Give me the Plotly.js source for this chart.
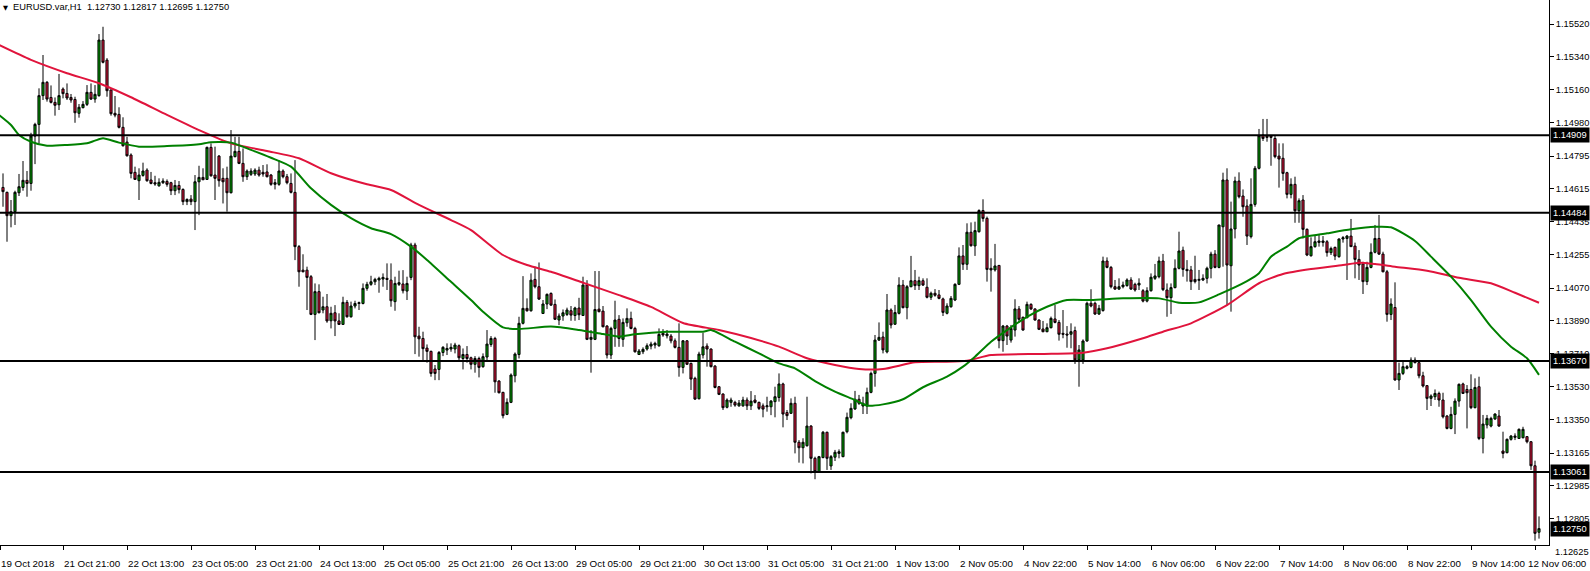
<!DOCTYPE html>
<html>
<head>
<meta charset="utf-8">
<script src="https://cdn.plot.ly/plotly-3.0.1.min.js"></script>
<style>
html,body{margin:0;padding:0;background:#fff;}
#chart{width:1590px;height:571px;}
</style>
</head>
<body>
<div id="chart"></div>
<script>
// ---- data (EURUSD H1) ----
const symbolTitle = "EURUSD.var,H1";
const firstBar = -15; // bar index of the first visible candle (bar 0 = 21 Oct 21:00)

const openPrices = [
1.14623,1.14596,1.14468,1.14490,1.14594,1.14623,1.14662,1.14645,1.14905,1.14969,
1.15127,1.15200,1.15117,1.15090,1.15077,1.15163,1.15139,1.15117,1.15106,1.15030,
1.15061,1.15079,1.15145,1.15108,1.15127,1.15432,1.15322,1.15158,1.15030,1.15024,
1.14953,1.14872,1.14801,1.14706,1.14660,1.14689,1.14718,1.14664,1.14649,1.14632,
1.14649,1.14656,1.14649,1.14605,1.14634,1.14612,1.14545,1.14559,1.14545,1.14654,
1.14678,1.14667,1.14843,1.14691,1.14795,1.14673,1.14673,1.14594,1.14792,1.14821,
1.14755,1.14682,1.14695,1.14697,1.14718,1.14706,1.14708,1.14691,1.14640,1.14640,
1.14713,1.14682,1.14645,1.14596,1.14298,1.14169,1.14169,1.14133,1.13926,1.14051,
1.13950,1.13968,1.13891,1.13935,1.13890,1.13871,1.13992,1.13913,1.13972,1.13986,
1.13986,1.14069,1.14091,1.14105,1.14115,1.14120,1.14124,1.14114,1.13996,1.14091,
1.14093,1.14054,1.14129,1.14307,1.13807,1.13794,1.13741,1.13723,1.13626,1.13624,
1.13717,1.13730,1.13736,1.13736,1.13754,1.13684,1.13706,1.13688,1.13652,1.13684,
1.13639,1.13692,1.13761,1.13794,1.13560,1.13498,1.13377,1.13443,1.13589,1.13706,
1.13877,1.13959,1.13946,1.14118,1.14078,1.13931,1.13983,1.14041,1.13981,1.13895,
1.13917,1.13926,1.13946,1.13920,1.13961,1.13920,1.14087,1.13789,1.13789,1.13955,
1.13944,1.13862,1.13703,1.13849,1.13899,1.13789,1.13880,1.13904,1.13849,1.13706,
1.13721,1.13736,1.13752,1.13758,1.13754,1.13822,1.13809,1.13807,1.13781,1.13745,
1.13635,1.13781,1.13657,1.13575,1.13463,1.13703,1.13752,1.13736,1.13642,1.13529,
1.13489,1.13416,1.13443,1.13443,1.13424,1.13424,1.13456,1.13424,1.13456,1.13443,
1.13424,1.13419,1.13419,1.13447,1.13470,1.13544,1.13387,1.13383,1.13438,1.13224,
1.13194,1.13205,1.13313,1.13136,1.13063,1.13140,1.13279,1.13094,1.13142,1.13163,
1.13145,1.13282,1.13359,1.13407,1.13460,1.13423,1.13423,1.13498,1.13602,1.13785,
1.13802,1.13720,1.13950,1.13872,1.13932,1.14087,1.13963,1.14078,1.14111,1.14084,
1.14111,1.14075,1.14020,1.14042,1.14033,1.14011,1.13932,1.13968,1.14005,1.14091,
1.14247,1.14201,1.14377,1.14302,1.14380,1.14496,1.14453,1.14179,1.14170,1.14195,
1.13782,1.13862,1.13785,1.13840,1.13956,1.13910,1.13908,1.13981,1.13956,1.13895,
1.13846,1.13831,1.13853,1.13901,1.13882,1.13822,1.13818,1.13817,1.13837,1.13676,
1.13676,1.13780,1.13987,1.13987,1.13928,1.13947,1.14219,1.14184,1.14078,1.14065,
1.14078,1.14084,1.14115,1.14091,1.14087,1.14056,1.13999,1.14056,1.14124,1.14133,
1.14219,1.14060,1.14018,1.14073,1.14179,1.14278,1.14173,1.14170,1.14118,1.14113,
1.14115,1.14124,1.14179,1.14257,1.14184,1.14407,1.14664,1.14193,1.14395,1.14658,
1.14576,1.14521,1.14353,1.14530,1.14728,1.14911,1.14905,1.14905,1.14892,1.14795,
1.14783,1.14704,1.14585,1.14640,1.14495,1.14554,1.14393,1.14248,1.14298,1.14321,
1.14321,1.14325,1.14265,1.14294,1.14243,1.14340,1.14343,1.14356,1.14301,1.14228,
1.14203,1.14106,1.14184,1.14267,1.14343,1.14257,1.14160,1.13926,1.13964,1.13566,
1.13602,1.13630,1.13635,1.13675,1.13661,1.13589,1.13535,1.13465,1.13474,1.13492,
1.13456,1.13368,1.13300,1.13377,1.13450,1.13544,1.13514,1.13514,1.13414,1.13529,
1.13245,1.13319,1.13313,1.13352,1.13368,1.13176,1.13167,1.13240,1.13251,1.13245,
1.13249,1.13255,1.13227,1.13095,1.12730
];

const highPrices = [
1.14700,1.14600,1.14554,1.14605,1.14697,1.14768,1.14713,1.14923,1.14978,1.15167,
1.15350,1.15207,1.15183,1.15117,1.15246,1.15172,1.15194,1.15136,1.15121,1.15081,
1.15097,1.15185,1.15194,1.15185,1.15465,1.15505,1.15333,1.15161,1.15125,1.15063,
1.15008,1.14901,1.14810,1.14737,1.14728,1.14759,1.14728,1.14708,1.14687,1.14673,
1.14673,1.14667,1.14654,1.14664,1.14658,1.14618,1.14563,1.14581,1.14691,1.14742,
1.14728,1.14847,1.14865,1.14847,1.14801,1.14728,1.14737,1.14938,1.14901,1.14901,
1.14837,1.14722,1.14728,1.14728,1.14737,1.14746,1.14750,1.14697,1.14669,1.14773,
1.14722,1.14697,1.14700,1.14773,1.14307,1.14256,1.14188,1.14142,1.14096,1.14091,
1.14023,1.14038,1.13968,1.13977,1.13932,1.14023,1.14005,1.13996,1.14001,1.13996,
1.14096,1.14105,1.14138,1.14127,1.14133,1.14151,1.14206,1.14206,1.14133,1.14166,
1.14169,1.14133,1.14319,1.14319,1.13858,1.13831,1.13761,1.13727,1.13648,1.13725,
1.13752,1.13767,1.13767,1.13770,1.13761,1.13739,1.13752,1.13694,1.13697,1.13694,
1.13712,1.13840,1.13807,1.13803,1.13565,1.13501,1.13465,1.13602,1.13717,1.13913,
1.14136,1.14014,1.14151,1.14188,1.14211,1.14005,1.14041,1.14047,1.14008,1.13931,
1.13953,1.13963,1.13972,1.13968,1.14017,1.14133,1.14114,1.13840,1.14164,1.14164,
1.13972,1.13867,1.13858,1.14001,1.13922,1.13904,1.13959,1.13941,1.13858,1.13736,
1.13745,1.13767,1.13776,1.13776,1.13849,1.13845,1.13840,1.13818,1.13794,1.13877,
1.13785,1.13785,1.13661,1.13584,1.13721,1.13825,1.13767,1.13739,1.13648,1.13533,
1.13492,1.13465,1.13469,1.13452,1.13456,1.13474,1.13470,1.13505,1.13483,1.13447,
1.13437,1.13474,1.13456,1.13529,1.13602,1.13551,1.13401,1.13465,1.13474,1.13236,
1.13246,1.13474,1.13318,1.13145,1.13149,1.13286,1.13282,1.13154,1.13182,1.13185,
1.13282,1.13387,1.13438,1.13506,1.13484,1.13474,1.13524,1.13612,1.13813,1.13882,
1.13831,1.14038,1.13959,1.13978,1.14130,1.14115,1.14087,1.14247,1.14170,1.14133,
1.14124,1.14124,1.14051,1.14065,1.14060,1.14018,1.13987,1.14027,1.14097,1.14294,
1.14307,1.14426,1.14431,1.14435,1.14503,1.14558,1.14463,1.14234,1.14313,1.14197,
1.13868,1.13868,1.13868,1.14009,1.13972,1.13914,1.13996,1.13987,1.13959,1.13899,
1.13890,1.13877,1.13914,1.13978,1.13895,1.13950,1.13862,1.13877,1.13859,1.13758,
1.13789,1.13996,1.14064,1.13996,1.13978,1.14243,1.14239,1.14192,1.14115,1.14124,
1.14106,1.14124,1.14130,1.14100,1.14124,1.14065,1.14075,1.14151,1.14203,1.14243,
1.14258,1.14096,1.14096,1.14228,1.14380,1.14298,1.14224,1.14192,1.14248,1.14170,
1.14146,1.14188,1.14270,1.14279,1.14417,1.14704,1.14728,1.14545,1.14682,1.14706,
1.14612,1.14558,1.14673,1.14741,1.14944,1.14999,1.14999,1.14911,1.14911,1.14865,
1.14865,1.14709,1.14673,1.14682,1.14563,1.14581,1.14398,1.14349,1.14358,1.14365,
1.14356,1.14334,1.14298,1.14298,1.14343,1.14356,1.14362,1.14450,1.14320,1.14279,
1.14215,1.14215,1.14316,1.14417,1.14472,1.14270,1.14170,1.14014,1.14102,1.13661,
1.13666,1.13648,1.13690,1.13690,1.13666,1.13611,1.13538,1.13487,1.13514,1.13502,
1.13496,1.13374,1.13419,1.13465,1.13547,1.13551,1.13538,1.13597,1.13575,1.13584,
1.13374,1.13374,1.13364,1.13383,1.13401,1.13282,1.13245,1.13264,1.13273,1.13300,
1.13309,1.13258,1.13231,1.13123,1.12817
];

const lowPrices = [
1.14517,1.14325,1.14404,1.14417,1.14576,1.14605,1.14572,1.14605,1.14751,1.14865,
1.15103,1.15094,1.15084,1.15017,1.15048,1.15112,1.15103,1.15088,1.14978,1.15006,
1.15057,1.15070,1.15103,1.15088,1.15121,1.15304,1.15121,1.15017,1.15008,1.14947,
1.14847,1.14792,1.14673,1.14664,1.14554,1.14682,1.14654,1.14640,1.14632,1.14627,
1.14642,1.14627,1.14581,1.14581,1.14590,1.14526,1.14526,1.14526,1.14389,1.14471,
1.14664,1.14664,1.14682,1.14554,1.14627,1.14535,1.14490,1.14590,1.14788,1.14751,
1.14654,1.14664,1.14686,1.14686,1.14682,1.14682,1.14678,1.14632,1.14612,1.14632,
1.14673,1.14640,1.14590,1.14224,1.14078,1.14157,1.13950,1.13922,1.13785,1.13932,
1.13932,1.13880,1.13849,1.13807,1.13868,1.13868,1.13908,1.13908,1.13959,1.13950,
1.13981,1.14056,1.14083,1.14087,1.14045,1.14078,1.14060,1.13968,1.13946,1.14082,
1.14041,1.14005,1.14114,1.13708,1.13694,1.13666,1.13661,1.13584,1.13565,1.13565,
1.13697,1.13703,1.13721,1.13712,1.13666,1.13624,1.13661,1.13624,1.13606,1.13580,
1.13633,1.13675,1.13748,1.13496,1.13492,1.13355,1.13373,1.13439,1.13553,1.13684,
1.13871,1.13941,1.13941,1.14069,1.14005,1.13928,1.13955,1.13972,1.13895,1.13867,
1.13891,1.13917,1.13891,1.13891,1.13895,1.13917,1.13785,1.13606,1.13785,1.13937,
1.13855,1.13684,1.13681,1.13748,1.13748,1.13748,1.13858,1.13844,1.13716,1.13703,
1.13708,1.13727,1.13734,1.13739,1.13748,1.13803,1.13794,1.13767,1.13739,1.13584,
1.13602,1.13648,1.13511,1.13456,1.13459,1.13684,1.13639,1.13635,1.13520,1.13483,
1.13401,1.13410,1.13419,1.13419,1.13419,1.13419,1.13401,1.13401,1.13437,1.13401,
1.13361,1.13392,1.13373,1.13361,1.13447,1.13306,1.13346,1.13379,1.13163,1.13112,
1.13108,1.13200,1.13053,1.13021,1.13057,1.13136,1.13072,1.13072,1.13121,1.13136,
1.13142,1.13273,1.13350,1.13401,1.13429,1.13379,1.13379,1.13493,1.13529,1.13780,
1.13712,1.13712,1.13849,1.13868,1.13926,1.13959,1.13899,1.14075,1.14060,1.14060,
1.14082,1.14014,1.14005,1.14023,1.14009,1.13917,1.13926,1.13963,1.13999,1.14087,
1.14170,1.14170,1.14298,1.14247,1.14375,1.14435,1.14106,1.14051,1.14161,1.13740,
1.13721,1.13758,1.13771,1.13804,1.13881,1.13837,1.13904,1.13950,1.13892,1.13840,
1.13828,1.13828,1.13849,1.13877,1.13782,1.13795,1.13743,1.13740,1.13654,1.13529,
1.13654,1.13776,1.13965,1.13923,1.13923,1.13941,1.14179,1.14069,1.14060,1.14060,
1.14069,1.14078,1.14060,1.14051,1.14060,1.13992,1.13992,1.14051,1.14115,1.14124,
1.14054,1.13913,1.13928,1.14069,1.14173,1.14133,1.14106,1.14060,1.14096,1.14060,
1.14109,1.14096,1.14124,1.14179,1.14179,1.14188,1.13977,1.13941,1.14343,1.14563,
1.14462,1.14307,1.14343,1.14517,1.14722,1.14878,1.14874,1.14742,1.14783,1.14622,
1.14660,1.14563,1.14563,1.14429,1.14429,1.14343,1.14246,1.14243,1.14292,1.14298,
1.14298,1.14243,1.14252,1.14224,1.14237,1.14320,1.14115,1.14298,1.14124,1.14115,
1.14038,1.14087,1.14179,1.14261,1.14252,1.14157,1.13886,1.13895,1.13562,1.13511,
1.13593,1.13624,1.13630,1.13657,1.13575,1.13525,1.13401,1.13423,1.13456,1.13419,
1.13355,1.13295,1.13295,1.13269,1.13419,1.13489,1.13300,1.13406,1.13410,1.13236,
1.13163,1.13300,1.13306,1.13346,1.13309,1.13136,1.13163,1.13233,1.13236,1.13242,
1.13245,1.13218,1.13072,1.12684,1.12695
];

const closePrices = [
1.14600,1.14468,1.14490,1.14596,1.14627,1.14662,1.14645,1.14905,1.14969,1.15127,
1.15200,1.15108,1.15090,1.15074,1.15127,1.15138,1.15114,1.15103,1.15033,1.15063,
1.15079,1.15145,1.15108,1.15134,1.15432,1.15310,1.15154,1.15028,1.15020,1.14953,
1.14852,1.14797,1.14700,1.14667,1.14691,1.14713,1.14660,1.14645,1.14642,1.14651,
1.14658,1.14640,1.14605,1.14634,1.14611,1.14545,1.14557,1.14545,1.14654,1.14678,
1.14665,1.14843,1.14687,1.14673,1.14660,1.14654,1.14594,1.14795,1.14821,1.14755,
1.14682,1.14713,1.14713,1.14718,1.14691,1.14697,1.14682,1.14640,1.14649,1.14713,
1.14682,1.14649,1.14596,1.14298,1.14160,1.14160,1.14129,1.13926,1.14051,1.13935,
1.13968,1.13890,1.13932,1.13890,1.13871,1.13992,1.13913,1.13972,1.13986,1.13990,
1.14069,1.14091,1.14105,1.14118,1.14124,1.14129,1.14118,1.14001,1.14096,1.14100,
1.14056,1.14096,1.14307,1.13803,1.13792,1.13738,1.13723,1.13602,1.13602,1.13717,
1.13745,1.13739,1.13745,1.13758,1.13688,1.13706,1.13684,1.13652,1.13684,1.13635,
1.13694,1.13763,1.13794,1.13556,1.13496,1.13370,1.13443,1.13593,1.13708,1.13877,
1.13959,1.13946,1.14114,1.14078,1.14010,1.13983,1.14036,1.13977,1.13899,1.13917,
1.13935,1.13950,1.13922,1.13961,1.13924,1.14087,1.13789,1.13800,1.13953,1.13941,
1.13858,1.13703,1.13849,1.13895,1.13794,1.13882,1.13904,1.13849,1.13721,1.13725,
1.13734,1.13754,1.13763,1.13767,1.13816,1.13813,1.13818,1.13781,1.13745,1.13635,
1.13781,1.13652,1.13571,1.13461,1.13708,1.13748,1.13736,1.13639,1.13525,1.13487,
1.13414,1.13456,1.13456,1.13428,1.13439,1.13456,1.13424,1.13450,1.13443,1.13410,
1.13406,1.13424,1.13450,1.13474,1.13544,1.13379,1.13370,1.13438,1.13224,1.13194,
1.13224,1.13313,1.13136,1.13063,1.13145,1.13279,1.13136,1.13145,1.13169,1.13172,
1.13279,1.13361,1.13410,1.13460,1.13438,1.13438,1.13498,1.13602,1.13785,1.13800,
1.13731,1.13950,1.13868,1.13936,1.14087,1.13963,1.14078,1.14111,1.14084,1.14111,
1.14087,1.14020,1.14042,1.14031,1.14014,1.13937,1.13972,1.14014,1.14091,1.14247,
1.14201,1.14377,1.14303,1.14386,1.14496,1.14453,1.14173,1.14170,1.14192,1.13782,
1.13862,1.13807,1.13849,1.13956,1.13899,1.13840,1.13981,1.13956,1.13895,1.13844,
1.13831,1.13853,1.13904,1.13882,1.13817,1.13817,1.13813,1.13831,1.13676,1.13731,
1.13780,1.13987,1.13972,1.13928,1.13959,1.14219,1.14184,1.14078,1.14065,1.14078,
1.14087,1.14115,1.14065,1.14060,1.14097,1.13999,1.14056,1.14130,1.14137,1.14219,
1.14062,1.14018,1.14073,1.14179,1.14274,1.14173,1.14166,1.14106,1.14106,1.14118,
1.14124,1.14179,1.14257,1.14184,1.14417,1.14664,1.14197,1.14395,1.14658,1.14572,
1.14517,1.14356,1.14530,1.14728,1.14907,1.14892,1.14898,1.14898,1.14792,1.14779,
1.14700,1.14585,1.14640,1.14495,1.14550,1.14393,1.14252,1.14298,1.14325,1.14329,
1.14329,1.14265,1.14288,1.14246,1.14340,1.14347,1.14356,1.14298,1.14228,1.14197,
1.14106,1.14184,1.14267,1.14343,1.14257,1.14160,1.13926,1.13983,1.13566,1.13602,
1.13639,1.13639,1.13675,1.13661,1.13589,1.13533,1.13465,1.13478,1.13492,1.13456,
1.13364,1.13300,1.13377,1.13450,1.13542,1.13492,1.13496,1.13414,1.13525,1.13245,
1.13324,1.13355,1.13355,1.13379,1.13313,1.13163,1.13240,1.13258,1.13258,1.13295,
1.13295,1.13227,1.13095,1.12724,1.12750
];

// moving averages (at these bar indices)
const fastMaBars = [-16,-13,-11,-8,-4,1,6,8,10,14,19,26,34,37,42,47,52,57,62,67,72,77,82,87,91,97,102,105,110,114,122,129,135,139,143,151,160,162,168,174,179,183,188,193,198,201,205,210,215,221,225,228,232,236,241,246,251,257,265,274,279,284,289,296,299,302,306,309,316,322,328,332,338,342,347,352,357,362,366,369];
const fastMaValues = [1.15021,1.14966,1.14911,1.14874,1.14852,1.14856,1.14865,1.14880,1.14893,1.14869,1.14847,1.14850,1.14860,1.14871,1.14869,1.14829,1.14786,1.14737,1.14618,1.14527,1.14454,1.14399,1.14367,1.14298,1.14225,1.14105,1.14005,1.13941,1.13855,1.13846,1.13859,1.13840,1.13818,1.13804,1.13817,1.13831,1.13831,1.13840,1.13776,1.13712,1.13657,1.13630,1.13560,1.13502,1.13456,1.13425,1.13432,1.13460,1.13526,1.13584,1.13639,1.13694,1.13776,1.13840,1.13913,1.13968,1.14005,1.14005,1.14014,1.14014,1.13990,1.13992,1.14036,1.14109,1.14152,1.14243,1.14298,1.14344,1.14371,1.14393,1.14407,1.14404,1.14329,1.14243,1.14133,1.14005,1.13859,1.13749,1.13685,1.13594];

const slowMaBars = [-16,-8,1,9,17,26,34,42,51,59,67,76,82,89,97,102,110,116,122,130,139,147,155,164,172,179,186,193,199,205,213,220,226,232,245,255,261,270,275,282,291,299,305,312,320,324,328,333,341,349,357,363,369];
const slowMaValues = [1.15405,1.15323,1.15250,1.15195,1.15118,1.15021,1.14938,1.14865,1.14823,1.14783,1.14701,1.14640,1.14609,1.14527,1.14444,1.14389,1.14252,1.14197,1.14160,1.14100,1.14032,1.13967,1.13879,1.13840,1.13796,1.13749,1.13685,1.13648,1.13626,1.13626,1.13663,1.13666,1.13672,1.13703,1.13709,1.13716,1.13740,1.13795,1.13831,1.13877,1.13977,1.14097,1.14148,1.14175,1.14197,1.14210,1.14203,1.14188,1.14166,1.14127,1.14097,1.14045,1.13990];

// horizontal levels
const levelPrices = [1.14909, 1.14484, 1.13670, 1.13061];

// axis labels
const priceTicks = [1.15520,1.15340,1.15160,1.14980,1.14795,1.14615,1.14435,1.14255,1.14070,1.13890,1.13710,1.13530,1.13350,1.13165,1.12985,1.12805];
const bottomPriceLabel = 1.12625;
const timeLabels = ["19 Oct 2018","21 Oct 21:00","22 Oct 13:00","23 Oct 05:00","23 Oct 21:00","24 Oct 13:00","25 Oct 05:00","25 Oct 21:00","26 Oct 13:00","29 Oct 05:00","29 Oct 21:00","30 Oct 13:00","31 Oct 05:00","31 Oct 21:00","1 Nov 13:00","2 Nov 05:00","4 Nov 22:00","5 Nov 14:00","6 Nov 06:00","6 Nov 22:00","7 Nov 14:00","8 Nov 06:00","8 Nov 22:00","9 Nov 14:00","12 Nov 06:00"];
const barsPerLabel = 16;

// ---- build ----
const bars = openPrices.map((_, i) => firstBar + i);
const lastIdx = closePrices.length - 1;
const xRange = [firstBar - 0.75, 371.5];
const yRange = [1.12660, 1.15652];

const W = 1590, H = 571;
const M = {l: 0, r: 41, t: 0, b: 26};
const plotW = W - M.l - M.r;

const FONT = "Liberation Sans, Arial, sans-serif";
const tickVals = timeLabels.map((_, i) => i === 0 ? firstBar - 0.7 : (i - 1) * barsPerLabel);

const traces = [
  {
    type: 'candlestick',
    x: bars, open: openPrices, high: highPrices, low: lowPrices, close: closePrices,
    increasing: {line: {color: '#000000', width: 1}, fillcolor: '#00a000'},
    decreasing: {line: {color: '#000000', width: 1}, fillcolor: '#dc143c'},
    whiskerwidth: 0,
    hoverinfo: 'skip',
    showlegend: false
  },
  {
    type: 'scatter', mode: 'lines', x: slowMaBars, y: slowMaValues,
    line: {color: '#e0143c', width: 2, shape: 'spline', smoothing: 0.6},
    hoverinfo: 'skip', showlegend: false
  },
  {
    type: 'scatter', mode: 'lines', x: fastMaBars, y: fastMaValues,
    line: {color: '#008000', width: 2, shape: 'spline', smoothing: 0.6},
    hoverinfo: 'skip', showlegend: false
  }
];

const shapes = levelPrices.map(p => ({
  type: 'line', xref: 'paper', x0: 0, x1: 1, yref: 'y', y0: p, y1: p,
  line: {color: '#000000', width: 2}, layer: 'above'
}));

// time-axis labels drawn left-aligned at their ticks (MT4 style);
// the last one is pushed back so it ends at the window edge
const annotations = timeLabels.map((t, i) => {
  const base = {
    yref: 'paper', y: 0, yanchor: 'top', yshift: -11,
    text: t, showarrow: false,
    font: {family: FONT, size: 9.8, color: '#000000'}
  };
  if (i === timeLabels.length - 1) {
    return Object.assign(base, {xref: 'paper', x: (W - M.l - 1) / plotW, xanchor: 'right'});
  }
  return Object.assign(base, {xref: 'x', x: tickVals[i], xanchor: 'left', xshift: -1});
});

const boxLabels = levelPrices.concat([closePrices[lastIdx]]);
boxLabels.forEach(p => annotations.push({
  xref: 'paper', x: 1, xanchor: 'left', xshift: 1,
  yref: 'y', y: p, yanchor: 'middle',
  text: p.toFixed(5), showarrow: false,
  font: {family: FONT, size: 9.3, color: '#ffffff'},
  bgcolor: '#000000', borderpad: 2
}));
annotations.push({
  xref: 'paper', x: 1, xanchor: 'left', xshift: 4,
  yref: 'paper', y: -0.012, yanchor: 'middle',
  text: bottomPriceLabel.toFixed(5), showarrow: false,
  font: {family: FONT, size: 9.3, color: '#000000'}
});
annotations.push({
  xref: 'paper', x: 0, xanchor: 'left', xshift: 1,
  yref: 'paper', y: 1, yanchor: 'top', yshift: -2,
  text: '\u25BC', showarrow: false,
  font: {family: 'DejaVu Sans, sans-serif', size: 6.5, color: '#000000'}
});
annotations.push({
  xref: 'paper', x: 0, xanchor: 'left', xshift: 11,
  yref: 'paper', y: 1, yanchor: 'top', yshift: 0,
  text: symbolTitle + '  ' + [openPrices[lastIdx], highPrices[lastIdx], lowPrices[lastIdx], closePrices[lastIdx]].map(v => v.toFixed(5)).join(' '),
  showarrow: false,
  font: {family: FONT, size: 9.3, color: '#000000'}
});

const layout = {
  width: W, height: H,
  margin: {l: M.l, r: M.r, t: M.t, b: M.b, pad: 0},
  paper_bgcolor: '#ffffff', plot_bgcolor: '#ffffff',
  showlegend: false,
  boxgap: 0.25,
  font: {family: FONT, size: 10, color: '#000000'},
  xaxis: {
    type: 'linear', range: xRange, fixedrange: true,
    rangeslider: {visible: false},
    showgrid: false, zeroline: false,
    showline: true, linecolor: '#000000', linewidth: 1,
    ticks: 'outside', ticklen: 4, tickcolor: '#000000', tickwidth: 1,
    tickmode: 'array', tickvals: tickVals, ticktext: timeLabels.map(() => ''),
    showticklabels: true, tickangle: 0
  },
  yaxis: {
    range: yRange, side: 'right', fixedrange: true,
    showgrid: false, zeroline: false,
    showline: true, linecolor: '#000000', linewidth: 1,
    ticks: 'outside', ticklen: 4, tickcolor: '#000000', tickwidth: 1,
    tickmode: 'array', tickvals: priceTicks, ticktext: priceTicks.map(v => v.toFixed(5)),
    tickfont: {family: FONT, size: 9.3, color: '#000000'}
  },
  shapes: shapes,
  annotations: annotations
};

Plotly.newPlot('chart', traces, layout, {displayModeBar: false, staticPlot: true});
</script>
</body>
</html>
